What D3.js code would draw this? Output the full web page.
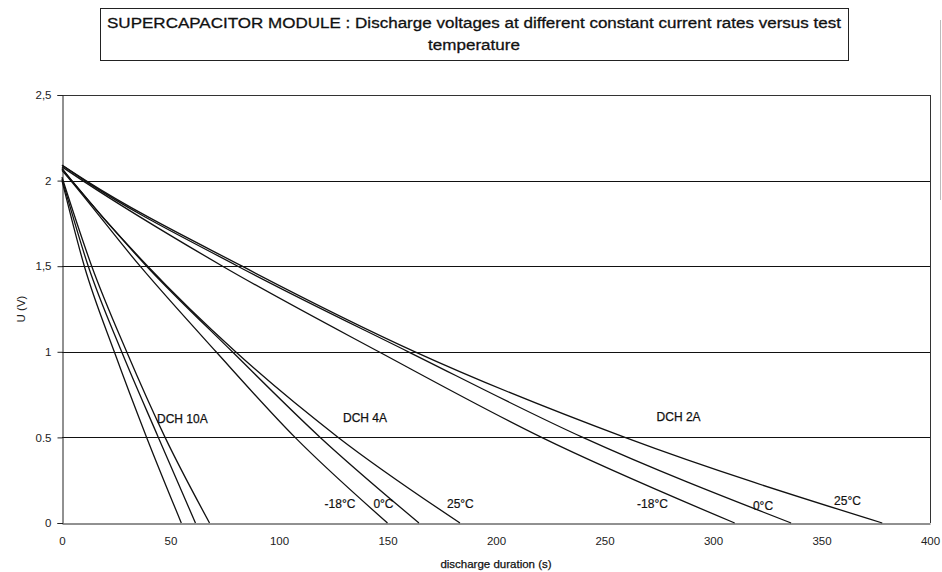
<!DOCTYPE html>
<html>
<head>
<meta charset="utf-8">
<script src="https://cdn.jsdelivr.net/npm/d3@7"></script>
<style>
  html, body { margin: 0; padding: 0; background: #fff; }
  svg { display: block; font-family: "Liberation Sans", Arial, sans-serif; }
</style>
</head>
<body>
<svg id="chart" width="942" height="572"></svg>
<script>
// ---------- data ----------
const titleLines = ["SUPERCAPACITOR MODULE : Discharge voltages at different constant current rates versus test", "temperature"];
const xTicks = [0, 50, 100, 150, 200, 250, 300, 350, 400];
const yTicks = [0, 0.5, 1, 1.5, 2, 2.5];
const yTickLabels = ["0", "0.5", "1", "1,5", "2", "2,5"];
const xTitle = "discharge duration (s)";
const yTitle = "U (V)";

// [time (s), voltage (V)]
const dch10_m18 = [[0, 2.00], [10.3, 1.5], [24.1, 1.0], [39.0, 0.5], [55.0, 0]];
const dch10_0   = [[0, 2.01], [12.1, 1.5], [27.5, 1.0], [44.4, 0.5], [61.5, 0]];
const dch10_25  = [[0, 2.02], [13.7, 1.5], [29.8, 1.0], [47.5, 0.5], [68.0, 0]];

const dch4_m18 = [[0, 2.06], [4.0, 2.0], [36.0, 1.5], [71.0, 1.0], [107.4, 0.5], [150.0, 0]];
const dch4_0   = [[0, 2.07], [4.5, 2.0], [39.0, 1.5], [78.5, 1.0], [119.0, 0.5], [164.5, 0]];
const dch4_25  = [[0, 2.07], [4.5, 2.0], [39.5, 1.5], [80.0, 1.0], [127.3, 0.5], [183.4, 0]];

const dch2_m18 = [[0, 2.08], [9.5, 2.0], [74.0, 1.5], [146.0, 1.0], [221.0, 0.5], [310.0, 0]];
const dch2_0   = [[0, 2.09], [10.5, 2.0], [81.0, 1.5], [159.6, 1.0], [240.0, 0.5], [336.0, 0]];
const dch2_25  = [[0, 2.09], [11.0, 2.0], [83.0, 1.5], [162.7, 1.0], [259.4, 0.5], [378.0, 0]];

const series = [dch10_m18, dch10_0, dch10_25, dch4_m18, dch4_0, dch4_25, dch2_m18, dch2_0, dch2_25];

// annotations: [text, time, voltage]
const groupLabels = [["DCH 10A", 43.8, 0.584], ["DCH 4A", 129.5, 0.59], ["DCH 2A", 274, 0.596]];
const tempLabels = [
  ["-18°C", 121, 0.088], ["0°C", 143.5, 0.088], ["25°C", 177.4, 0.088],
  ["-18°C", 265, 0.088], ["0°C", 318.4, 0.076], ["25°C", 355.8, 0.105]
];

// ---------- layout ----------
const svg = d3.select("#chart");
const m = { left: 62, right: 930, top: 95, bottom: 523 };
const x = d3.scaleLinear().domain([0, 400]).range([m.left, m.right]);
const y = d3.scaleLinear().domain([0, 2.5]).range([m.bottom, m.top]);
const ink = "#111";

function heavy(sel, sw) {
  return sel.attr("fill", ink).attr("stroke", ink).attr("stroke-width", sw).attr("paint-order", "stroke");
}

// title box
const tg = svg.append("g");
tg.append("rect").attr("x", 100.5).attr("y", 8.5).attr("width", 748).attr("height", 52)
  .attr("fill", "none").attr("stroke", "#222").attr("stroke-width", 1);
const t1 = tg.append("text").attr("x", 474).attr("y", 28).attr("text-anchor", "middle")
  .attr("font-size", 15.5).text(titleLines[0]);
heavy(t1, 0.3);
const natural = t1.node().getComputedTextLength();
const stretch = 734 / natural;
t1.attr("textLength", 734).attr("lengthAdjust", "spacingAndGlyphs");
const t2 = tg.append("text").attr("x", 474).attr("y", 50).attr("text-anchor", "middle")
  .attr("font-size", 15.5).text(titleLines[1]);
heavy(t2, 0.3);
const n2 = t2.node().getComputedTextLength();
t2.attr("textLength", n2 * stretch).attr("lengthAdjust", "spacingAndGlyphs");

// grid lines
svg.append("g").selectAll("line").data(yTicks.filter(d => d > 0 && d < 2.5)).join("line")
  .attr("x1", m.left).attr("x2", m.right)
  .attr("y1", d => Math.round(y(d)) + 0.5).attr("y2", d => Math.round(y(d)) + 0.5)
  .attr("stroke", ink).attr("stroke-width", 1);

// plot frame (top & right)
svg.append("line").attr("x1", m.left).attr("x2", m.right).attr("y1", m.top + 0.5).attr("y2", m.top + 0.5)
  .attr("stroke", "#333").attr("stroke-width", 1);
svg.append("line").attr("x1", m.right + 0.5).attr("x2", m.right + 0.5).attr("y1", m.top).attr("y2", m.bottom)
  .attr("stroke", "#333").attr("stroke-width", 1);

// axes
const yAxis = d3.axisLeft(y).tickValues(yTicks).tickSize(5).tickPadding(6)
  .tickFormat((d, i) => yTickLabels[i]);
const ya = svg.append("g").attr("transform", `translate(${m.left + 0.5},0)`).call(yAxis);
ya.select(".domain").attr("stroke", "#222");
ya.selectAll(".tick line").attr("stroke", "#222");
ya.selectAll(".tick text").attr("font-size", 11.5).attr("fill", "#222")
  .attr("font-family", "'Liberation Sans', Arial, sans-serif");

const xAxis = d3.axisBottom(x).tickValues(xTicks).tickSize(0).tickPadding(13);
const xa = svg.append("g").attr("transform", `translate(0,${m.bottom + 0.5})`).call(xAxis);
xa.select(".domain").attr("stroke", "#222");
xa.selectAll(".tick text").attr("font-size", 11.5).attr("fill", "#222")
  .attr("font-family", "'Liberation Sans', Arial, sans-serif");

// axis titles
heavy(svg.append("text").attr("x", (m.left + m.right) / 2).attr("y", 568).attr("text-anchor", "middle")
  .attr("font-size", 11.5).text(xTitle), 0.25);
svg.append("text").attr("transform", `translate(25,${(m.top + m.bottom) / 2}) rotate(-90)`)
  .attr("text-anchor", "middle").attr("font-size", 11.5).attr("fill", "#222").text(yTitle);

// curves
const line = d3.line().x(d => x(d[0])).y(d => y(d[1])).curve(d3.curveMonotoneX);
svg.append("g").selectAll("path").data(series).join("path")
  .attr("d", line).attr("fill", "none").attr("stroke", ink).attr("stroke-width", 1.3);

// labels
heavy(svg.append("g").selectAll("text").data(groupLabels).join("text")
  .attr("x", d => x(d[1])).attr("y", d => y(d[2]))
  .attr("font-size", 12).text(d => d[0]), 0.25);
heavy(svg.append("g").selectAll("text").data(tempLabels).join("text")
  .attr("x", d => x(d[1])).attr("y", d => y(d[2]))
  .attr("font-size", 12).text(d => d[0]), 0.2);

// page edge mark at right (scan)
svg.append("line").attr("x1", 940.5).attr("x2", 940.5).attr("y1", 20).attr("y2", 200)
  .attr("stroke", "#bbb").attr("stroke-width", 1);
</script>
</body>
</html>
